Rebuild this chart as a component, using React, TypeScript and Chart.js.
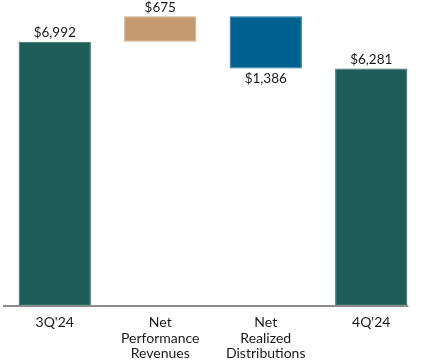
import React, { useEffect, useRef } from "react";
import { Chart, registerables } from "chart.js";

Chart.register(...registerables);

const categories: (string | string[])[] = [
  "3Q'24",
  ["Net", "Performance", "Revenues"],
  ["Net", "Realized", "Distributions"],
  "4Q'24",
];
// change values: totals are absolute, middle are deltas
const values = [6992, 675, -1386, 6281];
const isTotal = [true, false, false, true];
const valueLabels = ["$6,992", "$675", "$1,386", "$6,281"];
const barColors = ["#1E5C58", "#C49A71", "#00608F", "#1E5C58"];
const borderColors = ["#2F6E69", "#D2AB86", "#1A73A0", "#2F6E69"];

function buildFloating(): [number, number][] {
  let running = 0;
  return values.map((v, i) => {
    if (isTotal[i]) {
      running = v;
      return [0, v];
    }
    const start = running;
    running = running + v;
    return [start, running];
  });
}

const FONT = "Lato, 'DejaVu Sans', sans-serif";

export default function App() {
  const ref = useRef<HTMLCanvasElement | null>(null);
  useEffect(() => {
    if (!ref.current) return;
    const floating = buildFloating();
    const labelPlugin = {
      id: "valueLabels",
      afterDatasetsDraw(chart: any) {
        const ctx = chart.ctx;
        const meta = chart.getDatasetMeta(0);
        ctx.save();
        ctx.font = `13.5px ${FONT}`;
        ctx.fillStyle = "#1a1a1a";
        ctx.textAlign = "center";
        ctx.textBaseline = "middle";
        meta.data.forEach((el: any, i: number) => {
          const top = Math.min(el.y, el.base);
          const bottom = Math.max(el.y, el.base);
          if (values[i] < 0) {
            ctx.fillText(valueLabels[i], el.x, bottom + 10);
          } else {
            ctx.fillText(valueLabels[i], el.x, top - 9);
          }
        });
        ctx.restore();
      },
    };
    const axisPlugin = {
      id: "baseLine",
      afterDatasetsDraw(chart: any) {
        const ctx = chart.ctx;
        const meta = chart.getDatasetMeta(0);
        const last = meta.data[meta.data.length - 1];
        const y = chart.scales.y.getPixelForValue(0);
        ctx.save();
        ctx.strokeStyle = "#8C8C8C";
        ctx.lineWidth = 2;
        ctx.beginPath();
        ctx.moveTo(3, y + 1);
        ctx.lineTo(last.x + last.width / 2 + 1, y + 1);
        ctx.stroke();
        ctx.restore();
      },
    };
    const chart = new Chart(ref.current, {
      type: "bar",
      data: {
        labels: categories as any,
        datasets: [
          {
            data: floating as any,
            backgroundColor: barColors,
            borderColor: borderColors,
            borderWidth: 1,
            borderSkipped: false,
            categoryPercentage: 1,
            barPercentage: 0.685,
          },
        ],
      },
      options: {
        animation: false,
        responsive: false,
        maintainAspectRatio: false,
        layout: { padding: { left: 2, right: 3, top: 0, bottom: 0 } },
        plugins: {
          legend: { display: false },
          tooltip: { enabled: false },
        },
        scales: {
          x: {
            grid: { display: false, drawTicks: false },
            border: { display: false },
            afterFit: (scale: any) => {
              scale.height = 56;
            },
            ticks: {
              color: "#1a1a1a",
              font: { family: FONT, size: 14, lineHeight: 1.1 },
              padding: 10,
              maxRotation: 0,
              autoSkip: false,
            },
          },
          y: {
            display: false,
            min: 0,
            max: 8100,
          },
        },
      },
      plugins: [labelPlugin, axisPlugin],
    });
    return () => chart.destroy();
  }, []);
  return (
    <div style={{ position: "fixed", left: 0, top: 0, width: 427, height: 361, background: "#fff" }}>
      <canvas ref={ref} width={427} height={361} />
    </div>
  );
}
